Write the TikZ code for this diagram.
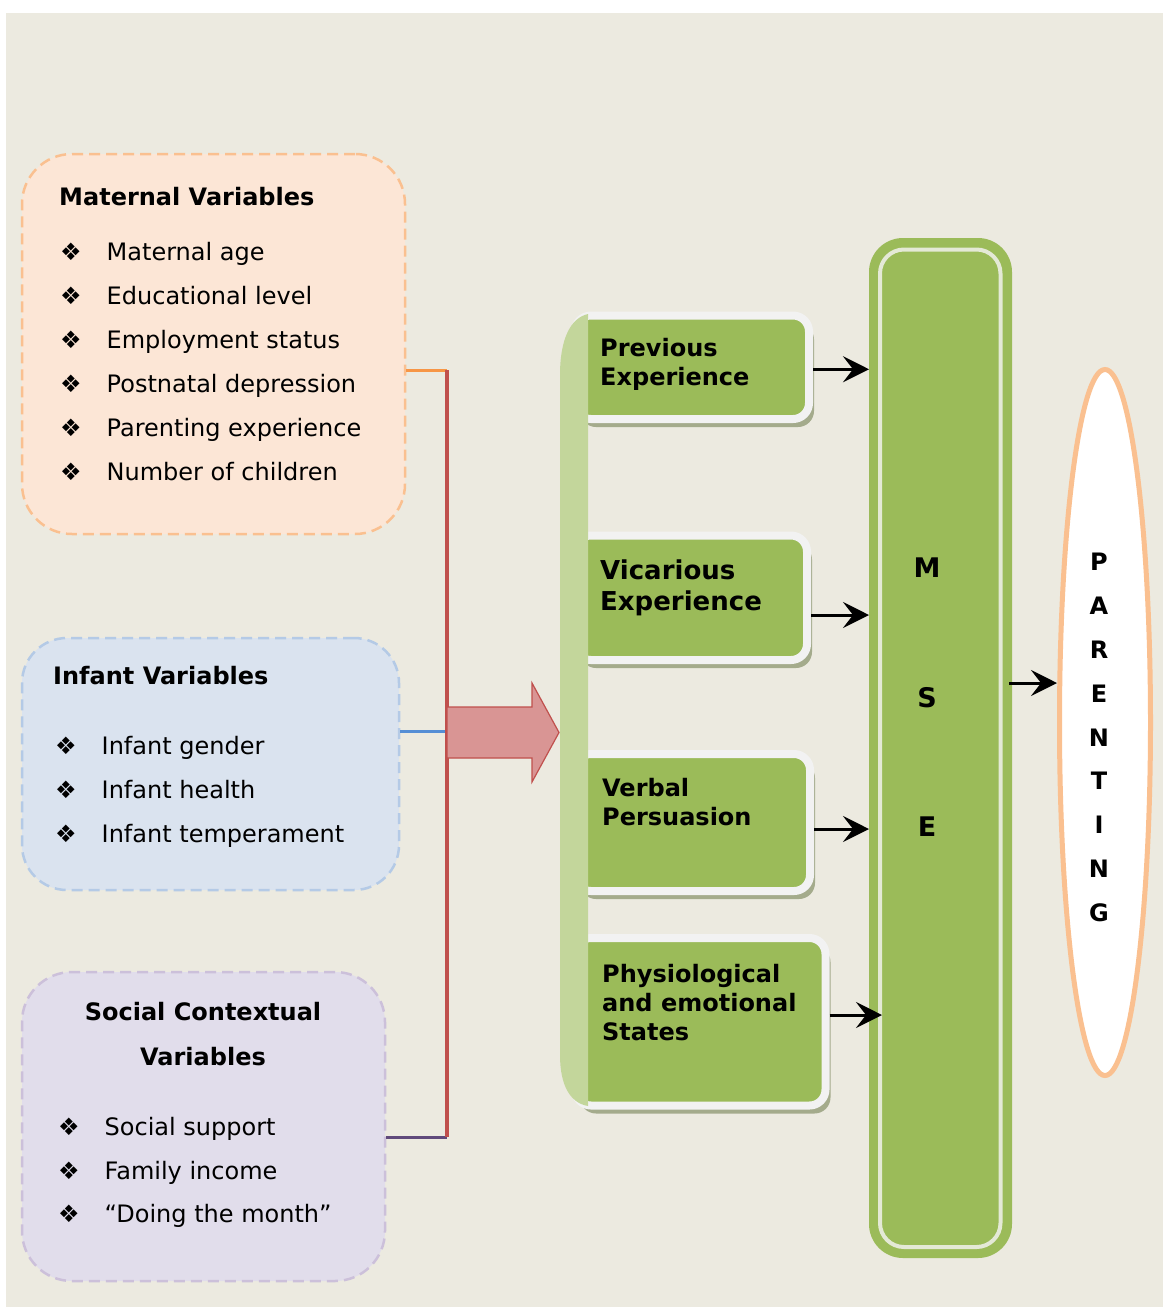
\documentclass[tikz,border=0pt]{standalone}
\usepackage{fontspec}
\setmainfont{DejaVu Sans}
\usepackage{xcolor}
\usepackage{tikz}
\usetikzlibrary{positioning,calc,shadows,arrows.meta,shapes.geometric}
\definecolor{bgBeige}{RGB}{236,234,224}
\definecolor{matFill}{RGB}{252,230,214}
\definecolor{matLine}{RGB}{250,192,144}
\definecolor{infFill}{RGB}{218,227,239}
\definecolor{infLine}{RGB}{180,202,230}
\definecolor{socFill}{RGB}{225,221,235}
\definecolor{socLine}{RGB}{204,192,218}
\definecolor{linkOrange}{RGB}{247,150,70}
\definecolor{linkRed}{RGB}{192,80,77}
\definecolor{linkBlue}{RGB}{85,142,213}
\definecolor{linkPurple}{RGB}{96,74,123}
\definecolor{arrowPink}{RGB}{217,149,148}
\definecolor{boxGreen}{RGB}{155,187,89}
\definecolor{barGreen}{RGB}{195,214,155}
\definecolor{rimWhite}{RGB}{242,242,242}
\definecolor{shadeGray}{RGB}{164,171,140}
\definecolor{innerRim}{RGB}{228,233,214}
\newcommand{\diabul}{\makebox[46.5pt][l]{\fontsize{24}{24}\selectfont ❖}}

\begin{document}
\begin{tikzpicture}[x=1pt,y=-1pt,
    >={Stealth[length=26pt,width=26pt,inset=10pt]},
    varbox/.style={rectangle,rounded corners=50pt,dash pattern=on 11pt off 6pt,line width=2.5pt},
    vartitle/.style={anchor=base west,inner sep=0pt,font=\bfseries\fontsize{24}{45}\selectfont},
    item/.style={anchor=base west,inner sep=0pt,font=\fontsize{24}{28}\selectfont},
    greenbox/.style={rectangle,rounded corners=16pt,fill=boxGreen,draw=rimWhite,line width=8pt,inner sep=0pt,
        drop shadow={shadow xshift=5pt,shadow yshift=-8pt,fill=shadeGray,opacity=1}},
    greentext/.style={inner sep=0pt,align=left,font=\bfseries\fontsize{24}{29}\selectfont},
    link/.style={line width=3pt},
    feed/.style={->,line width=3pt,black}]
        \useasboundingbox (0,0) rectangle (1163,1307);
        \fill[white] (0,0) rectangle (1163,1307);
        \fill[bgBeige] (6,13) rectangle (1163,1307);
        % Variable groups
        \node[varbox,fill=matFill,draw=matLine,minimum width=383pt,minimum height=380pt] (maternal) at (213.5,344) {};
        \node[varbox,fill=infFill,draw=infLine,minimum width=377pt,minimum height=252pt,rounded corners=45pt] (infant) at (210.5,764) {};
        \node[varbox,fill=socFill,draw=socLine,minimum width=363pt,minimum height=309pt] (social) at (203.5,1126.5) {};
        \node[vartitle] (matTitle) at (59,205) {Maternal Variables};
        \node[item] (mat1) at (60,260.7) {\diabul Maternal age};
        \node[item] (mat2) at (60,304.4) {\diabul Educational level};
        \node[item] (mat3) at (60,348.3) {\diabul Employment status};
        \node[item] (mat4) at (60,392.2) {\diabul Postnatal depression};
        \node[item] (mat5) at (60,436) {\diabul Parenting experience};
        \node[item] (mat6) at (60,480) {\diabul Number of children};
        \node[vartitle] (infTitle) at (53,684) {Infant Variables};
        \node[item] (inf1) at (55,754) {\diabul Infant gender};
        \node[item] (inf2) at (55,798) {\diabul Infant health};
        \node[item] (inf3) at (55,842) {\diabul Infant temperament};
        \node[vartitle,anchor=north,align=center] (socTitle) at (203,1002) {Social Contextual\\Variables};
        \node[item] (soc1) at (58,1135) {\diabul Social support};
        \node[item] (soc2) at (58,1179) {\diabul Family income};
        \node[item] (soc3) at (58,1222) {\diabul “Doing the month”};
        % Join the groups
        \coordinate (jTop) at (447,370);
        \coordinate (jMid) at (447,731);
        \coordinate (jBot) at (447,1137);
        \draw[link,linkOrange] (maternal.east |- jTop) -- (jTop);
        \draw[link,linkBlue] (infant.east |- jMid) -- (jMid);
        \draw[link,linkPurple] (social.east |- jBot) -- (jBot);
        \draw[link,linkRed,line width=3.5pt] (jTop) -- (jBot);
        \filldraw[fill=arrowPink,draw=linkRed,line width=1.2pt] (447,707) -- (532,707) -- (532,683) -- (559,732.5)
            -- (532,782) -- (532,758) -- (447,758) -- cycle;
        % Sources of self-efficacy
        \node[greenbox,minimum width=234pt,minimum height=103.5pt] (prev) at (692,367.25) {};
        \node[greenbox,minimum width=232pt,minimum height=124.5pt] (vicar) at (691,597.75) {};
        \node[greenbox,minimum width=235pt,minimum height=137pt] (verbal) at (692.5,822.5) {};
        \node[greenbox,minimum width=250.5pt,minimum height=167.5pt] (physio) at (700.25,1021.75) {};
        \fill[barGreen] (588,314) .. controls (570,318) and (560,340) .. (560,375) -- (560,1055)
            .. controls (560,1085) and (570,1103) .. (588,1106) -- cycle;
        \node[greentext] (prevText) [below right=26.5pt and 29pt of prev.north west] {Previous\\Experience};
        \node[greentext,font=\bfseries\fontsize{26}{31}\selectfont] (vicarText) [below right=28.5pt and 29pt of vicar.north west] {Vicarious\\Experience};
        \node[greentext] (verbalText) [below right=28pt and 31pt of verbal.north west] {Verbal\\Persuasion};
        \node[greentext] (physioText) [below right=30pt and 31pt of physio.north west] {Physiological\\and emotional\\States};
        % MSE column and outcome
        \node[fill=boxGreen,rounded corners=34pt,minimum width=143pt,minimum height=1020pt,inner sep=0pt,outer sep=0pt] (mse) at (940.5,748) {};
        \draw[innerRim,line width=4pt,rounded corners=24pt] ($(mse.north west)+(11pt,-11.5pt)$) rectangle ($(mse.south east)+(-11.5pt,11pt)$);
        \node[font=\bfseries\fontsize{27}{129.5}\selectfont,align=center,inner sep=0pt] (mseText) at (927,697.5) {M\\S\\E};
        \node[ellipse,draw=matLine,fill=white,line width=5pt,minimum width=91pt,minimum height=706pt,inner sep=0pt] (parenting) at (1105,722.5) {};
        \node[font=\bfseries\fontsize{24}{43.9}\selectfont,align=center,inner sep=0pt] (parentText) at (1099,737.5) {P\\A\\R\\E\\N\\T\\I\\N\\G};
        % Arrows into MSE
        \draw[feed] ($(prev.east)+(0pt,-2pt)$) -- ($(prev.east -| mse.west)+(0pt,-2pt)$);
        \draw[feed] ($(vicar.east)+(0pt,-17.25pt)$) -- ($(vicar.east -| mse.west)+(0pt,-17.25pt)$);
        \draw[feed] ($(verbal.east)+(0pt,-6.5pt)$) -- ($(verbal.east -| mse.west)+(0pt,-6.5pt)$);
        \draw[feed] ($(physio.east)+(0pt,6.75pt)$) -- ($(physio.east -| mse.west)+(13pt,6.75pt)$);
        \draw[feed] ($(mse.east)+(-3pt,65pt)$) -- ($(mse.east -| parenting.west)+(0pt,65pt)$);
    \end{tikzpicture}
\end{document}
